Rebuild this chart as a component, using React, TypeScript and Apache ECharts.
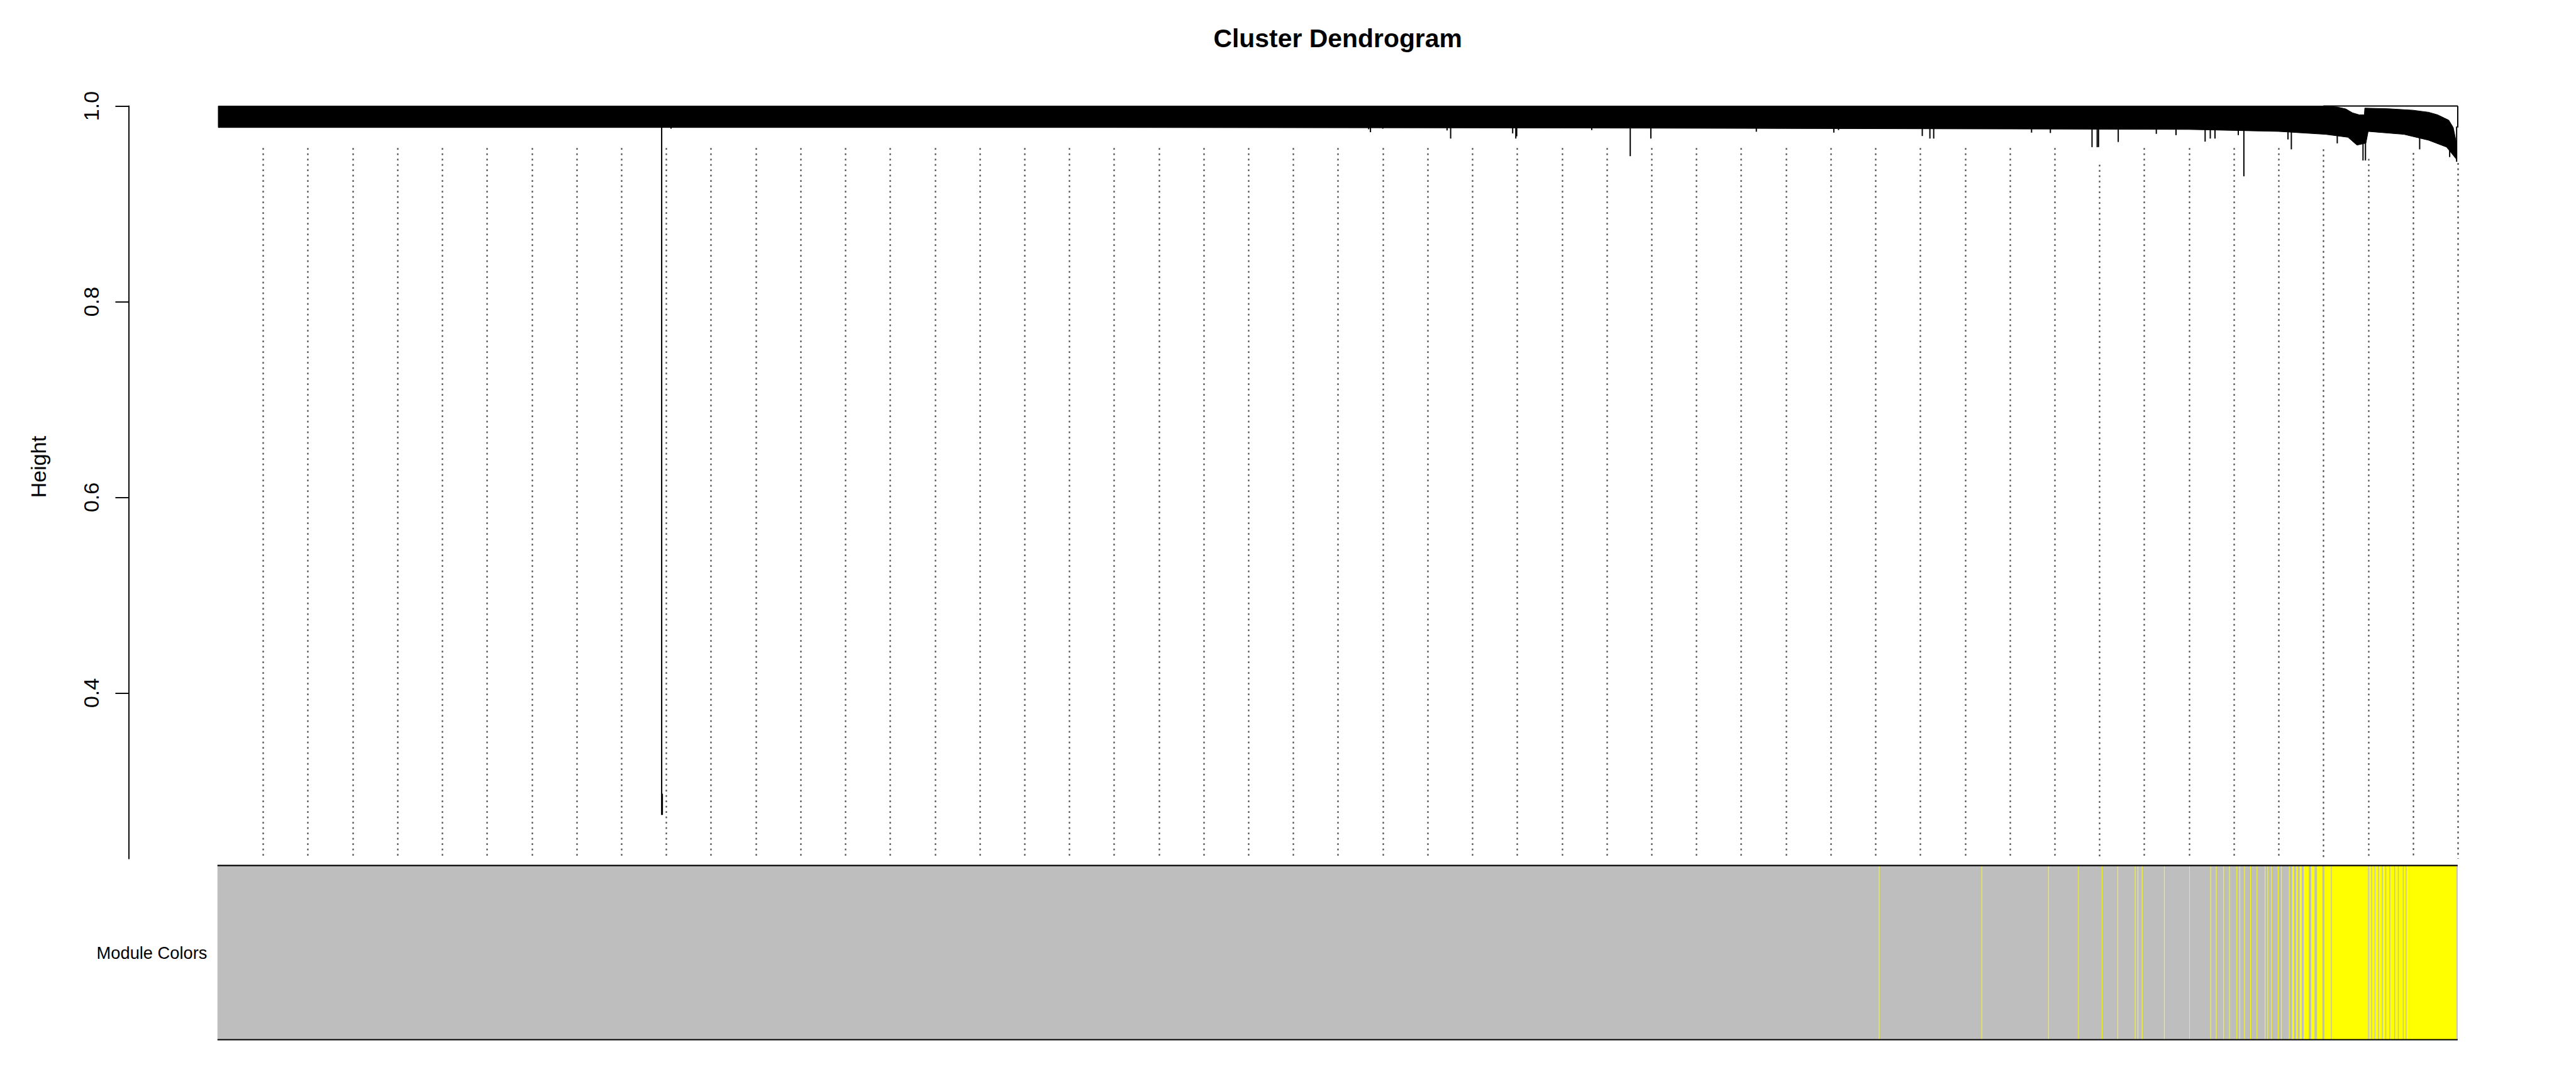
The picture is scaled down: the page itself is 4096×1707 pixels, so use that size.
import { useEffect, useRef } from "react";
import * as echarts from "echarts";

const SC = 0.682;
const FONT = "Liberation Sans";
const W = 4096;
const H = 1707;

// ---- data (leaf order position u in [0, 1000]) ----
const yTicks = [0.4, 0.6, 0.8, 1.0];
const yMin = 0.2307;
const yMax = 1.0;

// top edge of the dense leaf band (u, height)
const bandTop: number[][] = [
  [0, 1.0], [940, 1.0], [946, 0.999], [950, 0.997], [953, 0.993], [956, 0.991],
  [958.3, 0.991], [958.5, 0.9978], [969, 0.9972], [980, 0.9957], [987, 0.9936],
  [991, 0.991], [994, 0.9877], [996, 0.9855], [998, 0.978], [999.6, 0.96],
];
// bottom edge of the dense leaf band (u, height)
const bandBottom: number[][] = [
  [0, 0.978], [200, 0.978], [400, 0.978], [600, 0.9775], [700, 0.977], [800, 0.9765],
  [880, 0.976], [920, 0.974], [941, 0.971], [951, 0.968], [955, 0.96], [959, 0.962],
  [960, 0.974], [976, 0.971], [987, 0.965], [995, 0.958], [999.6, 0.945],
];
// top merge outline segments [u0, h0, u1, h1]
const outline: number[][] = [
  [940, 1.0, 1000, 1.0],
  [1000, 1.0, 1000, 0.978],
];
// visible single-leaf drops below the band [u, lowest height]
const spikes: number[][] = [
  [202.2, 0.9768], [513.7, 0.9762], [514.5, 0.9732], [520.0, 0.9768],
  [548.7, 0.975], [550.3, 0.9667], [578.0, 0.972], [579.4, 0.9667], [579.8, 0.969],
  [613.3, 0.9754], [630.5, 0.9487], [639.7, 0.9667], [686.8, 0.9737],
  [721.4, 0.9728], [723.5, 0.9754], [760.9, 0.9693], [764.3, 0.9667], [766.0, 0.9667],
  [809.7, 0.9728], [818.1, 0.9724], [836.7, 0.9579], [839.0, 0.9579], [839.6, 0.958],
  [848.4, 0.9632], [865.4, 0.9715], [874.2, 0.9702], [887.2, 0.9636],
  [889.5, 0.9667], [891.6, 0.9667], [902.0, 0.9702], [904.5, 0.9281],
  [924.2, 0.9658], [925.7, 0.9557], [946.2, 0.9618], [957.7, 0.9443], [958.8, 0.9443],
  [983.0, 0.9557], [996.4, 0.9478], [999.5, 0.943],
];
// the single long branch [u, top height, bottom height]
const longBranch: number[][] = [
  [198.0, 0.979, 0.2754],
  [198.3, 0.297, 0.2754],
];
// dotted guide lines
const guideU = [
  20, 40, 60, 80, 100, 120, 140, 160, 180, 200, 220, 240, 260, 280, 300, 320, 340,
  360, 380, 400, 420, 440, 460, 480, 500, 520, 540, 560, 580, 600, 620, 640, 660,
  680, 700, 720, 740, 760, 780, 800, 820, 840, 860, 880, 900, 920, 940, 960, 980, 1000,
];
const guideTop = [
  0.957, 0.957, 0.957, 0.957, 0.957, 0.957, 0.957, 0.957, 0.957, 0.957, 0.957, 0.957,
  0.957, 0.957, 0.957, 0.957, 0.957, 0.957, 0.957, 0.957, 0.957, 0.957, 0.957, 0.957,
  0.957, 0.957, 0.957, 0.957, 0.957, 0.957, 0.957, 0.957, 0.957, 0.957, 0.957, 0.957,
  0.957, 0.957, 0.957, 0.957, 0.957, 0.94, 0.957, 0.957, 0.957, 0.957, 0.9557, 0.946,
  0.952, 0.9417,
];
// module colour strip: yellow ranges [u0, u1] on grey
const yellowStripes: number[][] = [
  [741.6, 741.9], [787.4, 787.7], [817.2, 817.5], [830.6, 830.8], [841.2, 841.4],
  [848.1, 848.4], [855.9, 856.2], [857.1, 857.4], [859.0, 859.3], [868.9, 869.2],
  [880.2, 880.4], [889.6, 889.9], [892.1, 892.4], [895.4, 895.7], [898.0, 898.3],
  [901.3, 901.6], [902.6, 902.9], [904.7, 905.0], [907.4, 907.7], [910.3, 910.6],
  [913.9, 914.2], [915.1, 915.4], [916.8, 917.1], [919.7, 920.0], [921.2, 921.5],
  [924.7, 925.0],
  [926.2, 926.9], [928.0, 928.6], [929.5, 930.4], [931.3, 933.5], [934.6, 936.1],
  [937.2, 939.6], [940.5, 943.4],
  [943.8, 959.8],
  [959.8, 960.1], [960.5, 961.4], [961.8, 962.9], [963.3, 964.5], [964.9, 966.2],
  [966.6, 967.7], [968.1, 969.5], [969.9, 971.7], [972.1, 973.3], [973.7, 975.5],
  [975.9, 976.8], [977.2, 978.5],
  [978.5, 999.5],
];
const moduleLabel = "Module Colors";
const titleText = "Cluster Dendrogram";
const yName = "Height";

const px = (v: number) => v * SC;

export default function App() {
  const ref = useRef<HTMLDivElement>(null);

  useEffect(() => {
    if (!ref.current) return;
    const chart = echarts.init(ref.current, undefined, { renderer: "svg", width: W, height: H });

    const gridL = px(300);
    const gridR = W - px(5939);
    const gridT = px(247);
    const gridB = H - px(2001);

    const barL = px(507);
    const barR = W - px(5730);
    const barT = px(2017);
    const barB = H - px(2423);

    const lw = 2.0;

    const option: any = {
      animation: false,
      backgroundColor: "#ffffff",
      grid: [
        { left: gridL, right: gridR, top: gridT, bottom: gridB, containLabel: false },
        { left: barL, right: barR, top: barT, bottom: barB, containLabel: false },
      ],
      xAxis: [
        { type: "value", gridIndex: 0, min: -40, max: 1040, show: false },
        { type: "value", gridIndex: 1, min: 0, max: 1000, show: false },
      ],
      yAxis: [
        {
          type: "value",
          gridIndex: 0,
          min: yMin,
          max: yMax,
          axisLine: { show: true, onZero: false, lineStyle: { color: "#000", width: 1.9 } },
          axisTick: {
            show: true,
            inside: false,
            length: px(31),
            customValues: yTicks,
            lineStyle: { color: "#000", width: 1.9 },
          },
          axisLabel: {
            show: true,
            customValues: yTicks,
            rotate: 90,
            margin: px(62),
            fontSize: px(50),
            fontFamily: FONT,
            color: "#000",
            formatter: (v: number) => v.toFixed(1),
          },
          splitLine: { show: false },
        },
        { type: "value", gridIndex: 1, min: 0, max: 1, show: false },
      ],
      graphic: [
        {
          type: "text",
          x: px(3119),
          y: px(90),
          style: {
            text: titleText,
            fontSize: px(60),
            fontWeight: "bold",
            fontFamily: FONT,
            fill: "#000",
            textAlign: "center",
            textVerticalAlign: "middle",
          },
        },
        {
          type: "text",
          x: px(90),
          y: px(1088),
          rotation: Math.PI / 2,
          style: {
            text: yName,
            fontSize: px(50),
            fontFamily: FONT,
            fill: "#000",
            textAlign: "center",
            textVerticalAlign: "middle",
          },
        },
        {
          type: "text",
          x: px(483),
          y: px(2220),
          style: {
            text: moduleLabel,
            fontSize: px(40),
            fontFamily: FONT,
            fill: "#000",
            textAlign: "right",
            textVerticalAlign: "middle",
          },
        },
      ],
      series: [
        // dotted guide lines
        {
          type: "custom",
          xAxisIndex: 0,
          yAxisIndex: 0,
          data: guideU.map((u, i) => [u, guideTop[i]]),
          renderItem: (_p: any, api: any) => {
            const a = api.coord([api.value(0), api.value(1)]);
            const b = api.coord([api.value(0), yMin]);
            const x = Math.round(a[0]) + 0.5;
            return {
              type: "line",
              shape: { x1: x, y1: a[1], x2: x, y2: b[1] },
              style: { stroke: "#4d4d4d", lineWidth: 2.2, lineDash: [2.8, 5.7] },
            };
          },
        },
        // dense band of leaves
        {
          type: "custom",
          xAxisIndex: 0,
          yAxisIndex: 0,
          data: [[0, 1]],
          renderItem: (_p: any, api: any) => {
            const pts: number[][] = [];
            bandTop.forEach((d) => pts.push(api.coord(d)));
            for (let i = bandBottom.length - 1; i >= 0; i--) pts.push(api.coord(bandBottom[i]));
            return {
              type: "polygon",
              shape: { points: pts },
              style: { fill: "#000", stroke: "#000", lineWidth: 1 },
            };
          },
        },
        // outline of top merges
        {
          type: "custom",
          xAxisIndex: 0,
          yAxisIndex: 0,
          data: outline,
          renderItem: (_p: any, api: any) => {
            const a = api.coord([api.value(0), api.value(1)]);
            const b = api.coord([api.value(2), api.value(3)]);
            return {
              type: "line",
              shape: { x1: a[0], y1: a[1], x2: b[0], y2: b[1] },
              style: { stroke: "#000", lineWidth: lw },
            };
          },
        },
        // drops below the band
        {
          type: "custom",
          xAxisIndex: 0,
          yAxisIndex: 0,
          data: spikes,
          renderItem: (_p: any, api: any) => {
            const a = api.coord([api.value(0), 0.979]);
            const b = api.coord([api.value(0), api.value(1)]);
            return {
              type: "line",
              shape: { x1: a[0], y1: a[1], x2: b[0], y2: b[1] },
              style: { stroke: "#000", lineWidth: lw },
            };
          },
        },
        // long branch
        {
          type: "custom",
          xAxisIndex: 0,
          yAxisIndex: 0,
          data: longBranch,
          renderItem: (_p: any, api: any) => {
            const a = api.coord([api.value(0), api.value(1)]);
            const b = api.coord([api.value(0), api.value(2)]);
            return {
              type: "line",
              shape: { x1: a[0], y1: a[1], x2: b[0], y2: b[1] },
              style: { stroke: "#000", lineWidth: lw },
            };
          },
        },
        // module colour strip background
        {
          type: "custom",
          xAxisIndex: 1,
          yAxisIndex: 1,
          data: [[0, 1000]],
          renderItem: (_p: any, api: any) => {
            const a = api.coord([api.value(0), 1]);
            const b = api.coord([api.value(1), 0]);
            return {
              type: "rect",
              shape: { x: a[0], y: a[1], width: b[0] - a[0], height: b[1] - a[1] },
              style: { fill: "#bebebe" },
            };
          },
        },
        // yellow module members
        {
          type: "custom",
          xAxisIndex: 1,
          yAxisIndex: 1,
          data: yellowStripes,
          renderItem: (_p: any, api: any) => {
            const a = api.coord([api.value(0), 1]);
            const b = api.coord([api.value(1), 0]);
            return {
              type: "rect",
              shape: { x: a[0], y: a[1], width: Math.max(b[0] - a[0], 0.8), height: b[1] - a[1] },
              style: { fill: "#ffff00" },
            };
          },
        },
        // strip top and bottom borders
        {
          type: "custom",
          xAxisIndex: 1,
          yAxisIndex: 1,
          data: [[0, 1000, 1], [0, 1000, 0]],
          renderItem: (_p: any, api: any) => {
            const a = api.coord([api.value(0), api.value(2)]);
            const b = api.coord([api.value(1), api.value(2)]);
            return {
              type: "line",
              shape: { x1: a[0], y1: a[1], x2: b[0], y2: b[1] },
              style: { stroke: "#000", lineWidth: 2.2 },
            };
          },
        },
      ],
    };

    chart.setOption(option);
    return () => chart.dispose();
  }, []);

  return (
    <div
      ref={ref}
      style={{ position: "fixed", left: 0, top: 0, width: W, height: H, background: "#fff" }}
    />
  );
}
